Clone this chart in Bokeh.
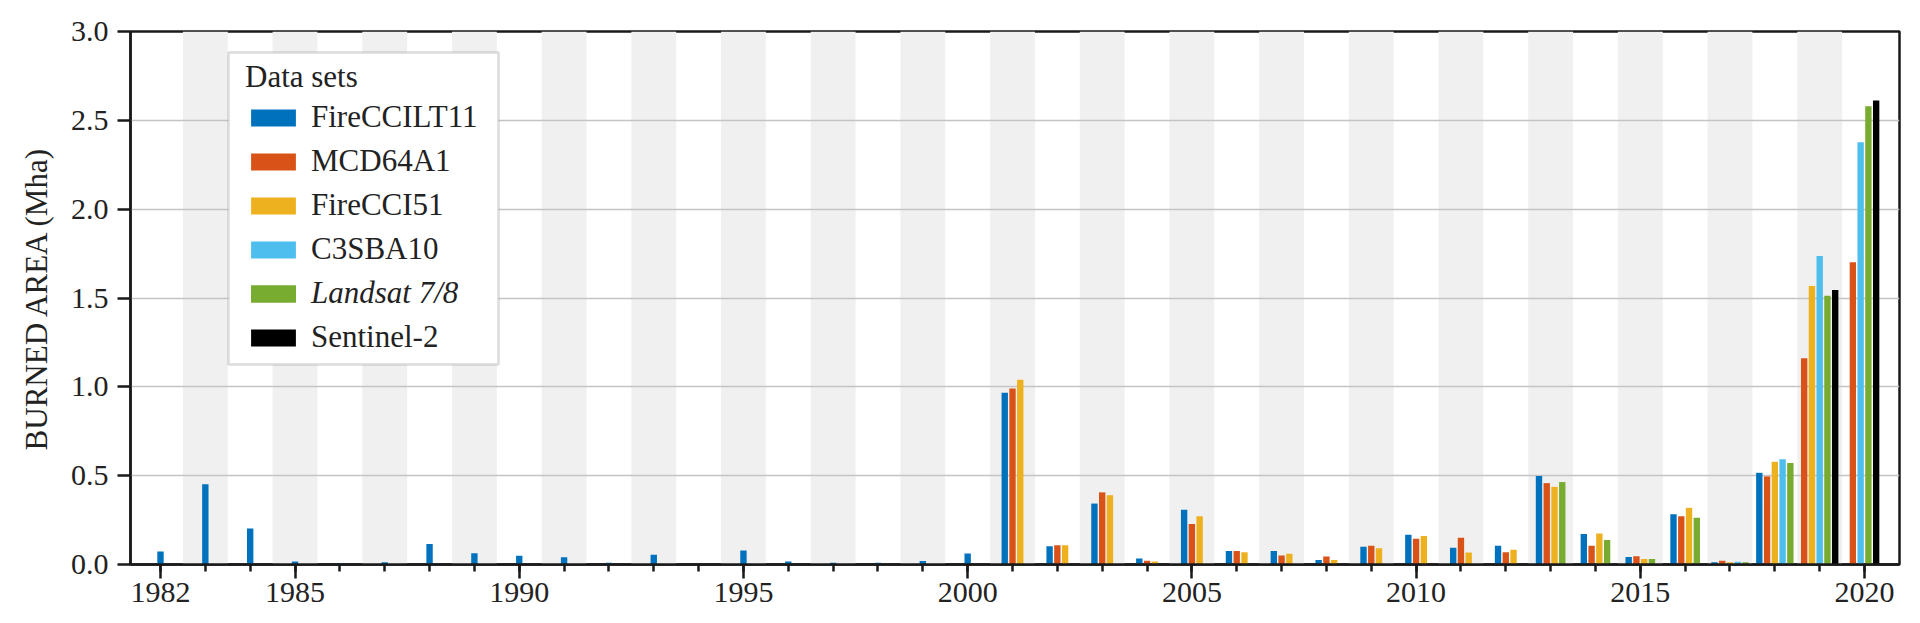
from bokeh.plotting import figure
from bokeh.models import (ColumnDataSource, Range1d, FixedTicker, PrintfTickFormatter,
                          Legend, LegendItem, BoxAnnotation)
from bokeh.embed import file_html
from bokeh.resources import INLINE

# ---------------- data ----------------
years = list(range(1982, 2021))

series_names = ["FireCCILT11", "MCD64A1", "FireCCI51", "C3SBA10", "Landsat 7/8", "Sentinel-2"]
series_colors = ["#0072BD", "#D95319", "#EDB120", "#4DBEEE", "#77AC30", "#000000"]

firecciLT11 = [0.073, 0.451, 0.203, 0.017, 0.008, 0.013, 0.116, 0.064, 0.049, 0.041,
               0.010, 0.055, 0.0, 0.079, 0.017, 0.010, 0.010, 0.019, 0.062, 0.966,
               0.103, 0.343, 0.034, 0.308, 0.076, 0.076, 0.025, 0.100, 0.167, 0.094,
               0.105, 0.498, 0.172, 0.042, 0.283, 0.013, 0.516, None, None]
mcd64a1 = [None] * 19 + [0.990, 0.109, 0.406, 0.021, 0.228, 0.076, 0.051, 0.045, 0.105,
                         0.145, 0.150, 0.069, 0.458, 0.105, 0.047, 0.272, 0.021, 0.496,
                         1.161, 1.701]
firecci51 = [None] * 19 + [1.040, 0.109, 0.390, 0.017, 0.272, 0.069, 0.060, 0.025, 0.092,
                           0.161, 0.067, 0.083, 0.437, 0.174, 0.031, 0.319, 0.012, 0.578,
                           1.567, None]
c3sba10 = [None] * 35 + [0.016, 0.592, 1.737, 2.377]
landsat = [None] * 31 + [0.464, 0.138, 0.031, 0.263, 0.012, 0.571, 1.513, 2.579]
sentinel2 = [None] * 37 + [1.545, 2.611]

all_series = [firecciLT11, mcd64a1, firecci51, c3sba10, landsat, sentinel2]

y_ticks = [0.0, 0.5, 1.0, 1.5, 2.0, 2.5, 3.0]
x_major_ticks = [1982, 1985, 1990, 1995, 2000, 2005, 2010, 2015, 2020]

# ---------------- layout of grouped bars ----------------
STEP = 0.173
BAR_W = 0.142
xs = [[] for _ in all_series]
tops = [[] for _ in all_series]
for j, yr in enumerate(years):
    present = [k for k, s in enumerate(all_series) if s[j] is not None]
    n = len(present)
    for i, k in enumerate(present):
        xs[k].append(yr + (i - (n - 1) / 2) * STEP)
        tops[k].append(all_series[k][j])

FONT = "Liberation Serif"
DARK = "#1a1a1a"

p = figure(width=1904, height=615, output_backend="svg", toolbar_location=None,
           x_range=Range1d(1981.331, 2020.78), y_range=Range1d(0, 3.0),
           min_border_left=130, min_border_right=5, min_border_top=31, min_border_bottom=51)
p.background_fill_color = "white"
p.border_fill_color = "white"
p.outline_line_color = DARK
p.outline_line_width = 2.5

# alternating shaded years
odd_years = [y for y in years if y % 2 == 1]
p.quad(left=[y - 0.5 for y in odd_years], right=[y + 0.5 for y in odd_years],
       bottom=0, top=3.0, fill_color="#f0f0f0", line_color=None, level="image")

renderers = []
for k, name in enumerate(series_names):
    src = ColumnDataSource(dict(x=xs[k], top=tops[k]))
    r = p.vbar(x="x", top="top", bottom=0, width=BAR_W, source=src,
               fill_color=series_colors[k], line_color=None)
    renderers.append(r)

# grid
p.xgrid.visible = False
p.ygrid.grid_line_color = "#c4c4c4"
p.ygrid.grid_line_width = 1.5
p.ygrid.ticker = FixedTicker(ticks=y_ticks)

# x axis
xa = p.xaxis[0]
xa.ticker = FixedTicker(ticks=x_major_ticks, minor_ticks=years)
xa.axis_line_color = DARK
xa.axis_line_width = 2.5
xa.major_tick_line_color = DARK
xa.minor_tick_line_color = DARK
xa.major_tick_line_width = 2.5
xa.minor_tick_line_width = 2.5
xa.major_tick_in = 0
xa.major_tick_out = 14
xa.minor_tick_in = 0
xa.minor_tick_out = 7
xa.major_label_standoff = 4
xa.major_label_text_font = FONT
xa.major_label_text_font_size = "30px"
xa.major_label_text_color = "#222222"

# y axis
ya = p.yaxis[0]
ya.ticker = FixedTicker(ticks=y_ticks, minor_ticks=[])
ya.formatter = PrintfTickFormatter(format="%.1f")
ya.axis_line_color = DARK
ya.axis_line_width = 2.5
ya.major_tick_line_color = DARK
ya.major_tick_line_width = 2.5
ya.major_tick_in = 0
ya.major_tick_out = 13
ya.minor_tick_out = 0
ya.minor_tick_in = 0
ya.major_label_standoff = 9
ya.major_label_text_font = FONT
ya.major_label_text_font_size = "30px"
ya.major_label_text_color = "#222222"
ya.axis_label = "BURNED AREA (Mha)"
ya.axis_label_text_font = FONT
ya.axis_label_text_font_size = "31px"
ya.axis_label_text_font_style = "normal"
ya.axis_label_text_color = "#222222"
ya.axis_label_standoff = 14

# legend frame
box = BoxAnnotation(left=1983.516, right=1989.538, bottom=1.126, top=2.882,
                    fill_color="white", fill_alpha=1.0,
                    line_color="#8a8a8a", line_width=2.5, level="annotation")
p.add_layout(box)

def style_legend(lg):
    lg.background_fill_alpha = 0
    lg.border_line_color = None
    lg.padding = 0
    lg.margin = 0
    lg.spacing = 8
    lg.glyph_width = 56
    lg.glyph_height = 21
    lg.label_height = 36
    lg.label_standoff = 10
    lg.label_text_font = FONT
    lg.label_text_font_size = "31px"
    lg.label_text_color = "#222222"

items_a = []
for k, name in enumerate(series_names):
    lbl = " " if name == "Landsat 7/8" else name
    items_a.append(LegendItem(label=lbl, renderers=[renderers[k]]))
leg_a = Legend(items=items_a, location=(115, 209), title="Data sets")
style_legend(leg_a)
leg_a.title_text_font = FONT
leg_a.title_text_font_size = "31px"
leg_a.title_text_font_style = "normal"
leg_a.title_text_color = "#222222"
leg_a.title_standoff = 4
p.add_layout(leg_a)

leg_b = Legend(items=[LegendItem(label="Landsat 7/8", renderers=[renderers[4]])],
               location=(115, 253))
style_legend(leg_b)
leg_b.label_text_font_style = "italic"
p.add_layout(leg_b)

open("out.html", "w").write(file_html(p, INLINE))
